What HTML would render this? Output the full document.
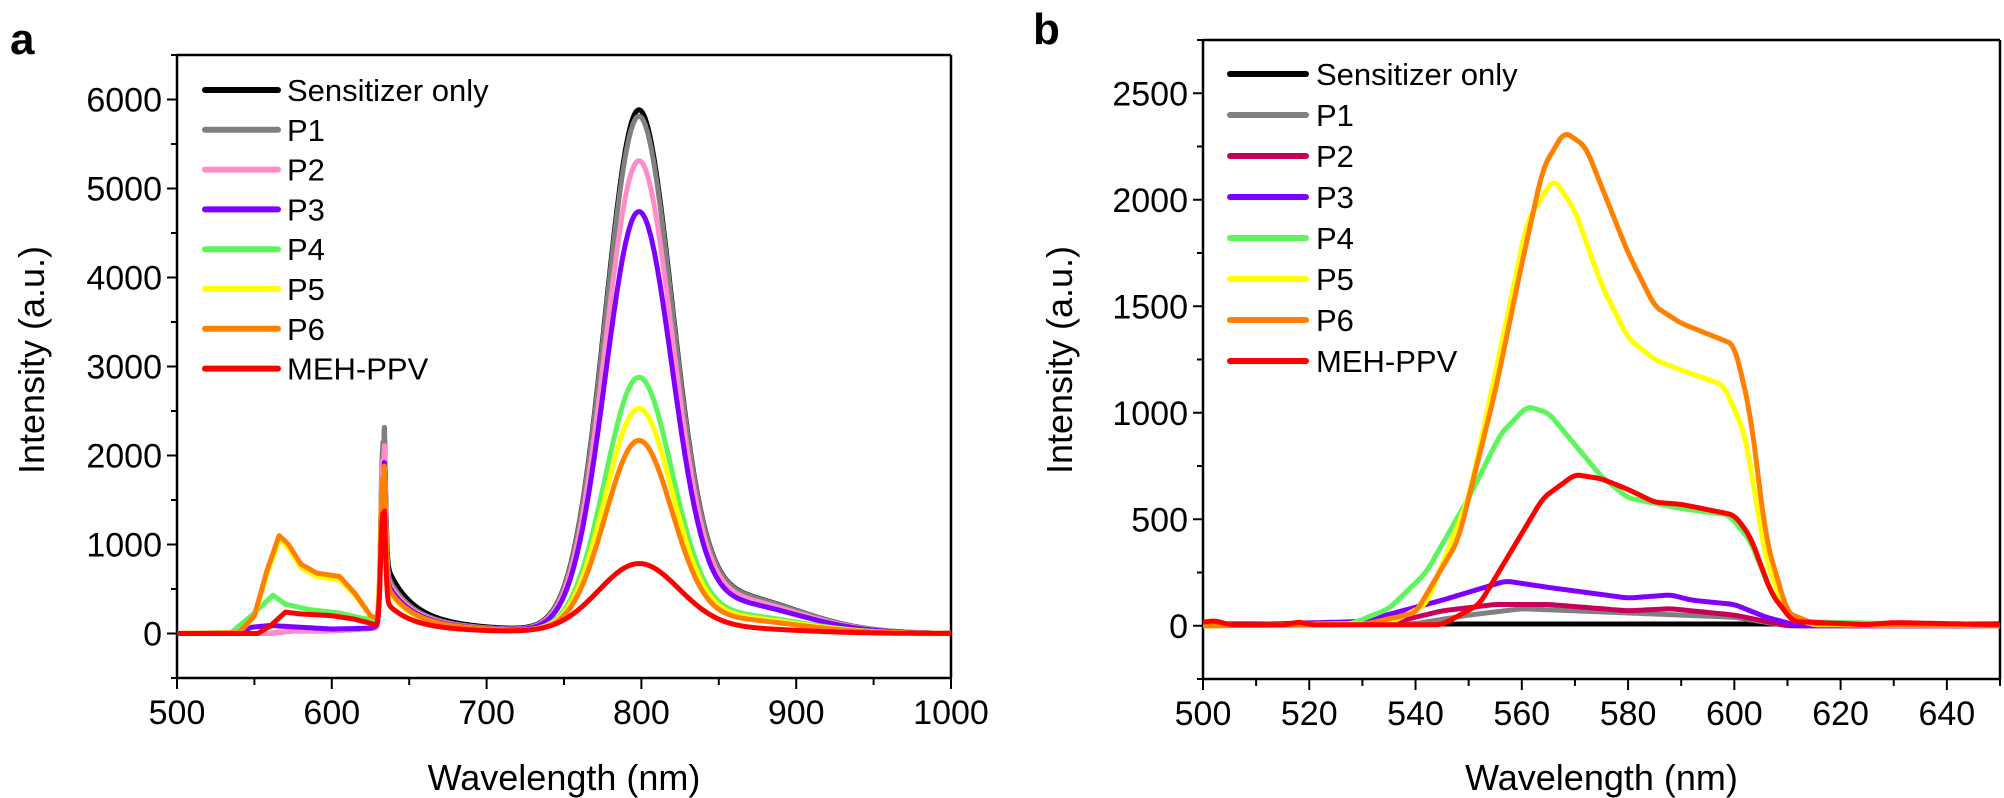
<!DOCTYPE html>
<html><head><meta charset="utf-8">
<style>html,body{margin:0;padding:0;background:#fff}svg{display:block}text{font-family:"Liberation Sans",Arial,sans-serif;fill:#000}</style>
</head><body>
<svg id="s" width="2004" height="798" xmlns="http://www.w3.org/2000/svg"></svg>
<script>
const S=document.getElementById('s');
let out='';
function line(x1,y1,x2,y2,w){out+=`<line x1="${x1}" y1="${y1}" x2="${x2}" y2="${y2}" stroke="#000" stroke-width="${w||2.5}"/>`;}
function txt(x,y,t,sz,anch,extra){out+=`<text x="${x}" y="${y}" font-size="${sz}" text-anchor="${anch||'middle'}" ${extra||''}>${t}</text>`;}
function interp(pts,x){if(x<=pts[0][0])return pts[0][1];for(let i=1;i<pts.length;i++){if(x<=pts[i][0]){const a=pts[i-1],b=pts[i];return a[1]+(b[1]-a[1])*(x-a[0])/(b[0]-a[0]);}}return pts[pts.length-1][1];}
function g(x,c,s){const t=(x-c)/s;return Math.exp(-t*t/2);}
function smooth(arr,k){const r=[];for(let i=0;i<arr.length;i++){let s=0,n=0;for(let j=-k;j<=k;j++){if(arr[i+j]!==undefined){s+=arr[i+j];n++;}}r.push(s/n);}return r;}

const A={x0:177,x1:951,y0:678,y1:55,vmin:-500,vmax:6500,xmin:500,xmax:1000};
const B={x0:1203,x1:2000,y0:679,y1:40,vmin:-250,vmax:2750,xmin:500,xmax:650};
function px(P,x){return P.x0+(x-P.xmin)/(P.xmax-P.xmin)*(P.x1-P.x0);}
function py(P,v){return P.y0-(v-P.vmin)/(P.vmax-P.vmin)*(P.y0-P.y1);}

function axes(P,yt,ymin,xt,xmin){
  line(P.x0,P.y1,P.x1,P.y1);line(P.x1,P.y1,P.x1,P.y0);line(P.x0,P.y0,P.x1,P.y0);line(P.x0,P.y1,P.x0,P.y0);
  for(let v=P.vmin;v<=P.vmax+1;v+=ymin){const y=py(P,v);const maj=yt.includes(v);line(P.x0-(maj?10:6),y,P.x0,y,2);if(maj)txt(P.x0-15,y+12,v,34,'end');}
  for(let x=P.xmin;x<=P.xmax+0.01;x+=xmin){const X=px(P,x);const maj=xt.includes(x);line(X,P.y0,X,P.y0+(maj?11:7),2);if(maj)txt(X,P.y0+46,x,34);}
}
axes(A,[0,1000,2000,3000,4000,5000,6000],500,[500,600,700,800,900,1000],50);
axes(B,[0,500,1000,1500,2000,2500],250,[500,520,540,560,580,600,620,640],10);
txt((A.x0+A.x1)/2,790,'Wavelength (nm)',36);
txt((B.x0+B.x1)/2,790,'Wavelength (nm)',36);
out+=`<text x="0" y="0" font-size="36" text-anchor="middle" transform="translate(44,360) rotate(-90)">Intensity (a.u.)</text>`;
out+=`<text x="0" y="0" font-size="36" text-anchor="middle" transform="translate(1072,360) rotate(-90)">Intensity (a.u.)</text>`;
txt(10,54,'a',44,'start','font-weight="bold"');
txt(1033,44,'b',44,'start','font-weight="bold"');

const cols=['#000000','#808080','#ff8cc8','#8000ff','#5cf55c','#ffff00','#ff8000','#ff0000'];
const colsB=['#000000','#808080','#c8005a','#8000ff','#5cf55c','#ffff00','#ff8000','#ff0000'];
const names=['Sensitizer only','P1','P2','P3','P4','P5','P6','MEH-PPV'];

const base0=[[500,0],[560,0],[575,30],[600,30],[628,60],[632,60]];
const lowA=[
 base0,base0,base0,
 [[500,0],[540,0],[548,70],[560,90],[600,50],[625,60],[632,100]],
 [[500,0],[535,10],[548,200],[562,430],[570,330],[585,270],[605,230],[620,170],[632,150]],
 [[500,0],[540,10],[550,190],[558,660],[566,1050],[572,960],[580,740],[590,640],[605,600],[615,430],[625,200],[632,150]],
 [[500,0],[540,10],[550,200],[558,700],[566,1100],[572,1000],[580,780],[590,680],[605,640],[615,450],[625,200],[632,150]],
 [[500,0],[552,0],[560,80],[570,240],[580,220],[600,200],[615,160],[628,100],[632,120]]
];
const spikeA=[2000,2150,1950,1750,1750,1750,1750,1350];
const shA=[600,520,480,450,400,400,420,270];
const pkA=[5870,5800,5300,4730,2870,2520,2160,780];
function fa(i,x){
 let y=x<=632?interp(lowA[i],x):0;
 y+=spikeA[i]*g(x,633,1.3);
 if(x>=634)y+=shA[i]*(0.7*Math.exp(-(x-640)/15)+0.3*Math.exp(-(x-640)/60));
 const s=i==7?26:21.5;
 y+=pkA[i]*(0.93*g(x,798,s)+0.07*g(x,855,45))/(0.93+0.07*g(798,855,45));
 return y;
}
for(let i=0;i<8;i++){
 let d='';
 for(let x=500;x<=1000;x+=0.5){const y=fa(i,x);d+=(x==500?'M':'L')+px(A,x).toFixed(1)+','+py(A,y).toFixed(1);}
 out+=`<path d="${d}" fill="none" stroke="${cols[i]}" stroke-width="5" stroke-linejoin="round"/>`;
}
const ptsB=[
 [[500,8],[650,8]],
 [[500,0],[540,10],[550,50],[560,80],[580,60],[600,40],[610,0],[650,0]],
 [[500,0],[535,10],[545,70],[555,100],[565,100],[580,70],[588,80],[600,50],[610,0],[650,0]],
 [[500,0],[530,20],[545,120],[557,210],[565,180],[580,130],[588,145],[592,120],[600,100],[606,40],[612,0],[650,0]],
 [[500,0],[528,10],[535,80],[542,250],[550,600],[556,900],[561,1030],[565,1000],[570,850],[575,700],[580,600],[586,570],[590,550],[599,520],[603,400],[607,150],[611,20],[650,0]],
 [[500,0],[535,10],[542,100],[550,600],[556,1300],[561,1900],[566,2100],[570,1950],[575,1600],[580,1350],[585,1250],[590,1200],[598,1130],[602,900],[606,300],[610,40],[615,5],[650,0]],
 [[500,0],[530,5],[540,60],[548,400],[555,1100],[560,1700],[564,2150],[568,2320],[572,2250],[576,2000],[580,1750],[585,1500],[590,1420],[596,1360],[600,1320],[603,1000],[606,400],[610,60],[615,10],[650,0]],
 [[500,15],[502,25],[505,5],[516,5],[518,20],[520,5],[545,5],[552,100],[558,350],[564,600],[570,710],[575,690],[580,640],[585,580],[590,570],[595,545],[600,520],[603,420],[607,150],[611,20],[625,5],[630,15],[650,5]]
];
for(let i=0;i<8;i++){
 const xs=[],ys=[];for(let x=500;x<=650;x+=0.25){xs.push(x);ys.push(interp(ptsB[i],x));}
 const sy=smooth(ys,4);
 let d='';xs.forEach((x,k)=>{d+=(k?'L':'M')+px(B,x).toFixed(1)+','+py(B,sy[k]).toFixed(1);});
 out+=`<path d="${d}" fill="none" stroke="${colsB[i]}" stroke-width="5" stroke-linejoin="round"/>`;
}
for(let i=0;i<8;i++){
 const ya=90+i*39.8;
 out+=`<line x1="205" y1="${ya}" x2="278" y2="${ya}" stroke="${cols[i]}" stroke-width="6" stroke-linecap="round"/>`;
 txt(287,ya+11,names[i],31,'start');
 const yb=74+i*41;
 out+=`<line x1="1230" y1="${yb}" x2="1306" y2="${yb}" stroke="${colsB[i]}" stroke-width="6" stroke-linecap="round"/>`;
 txt(1316,yb+11,names[i],31,'start');
}
S.innerHTML=out;
</script>
</body></html>
